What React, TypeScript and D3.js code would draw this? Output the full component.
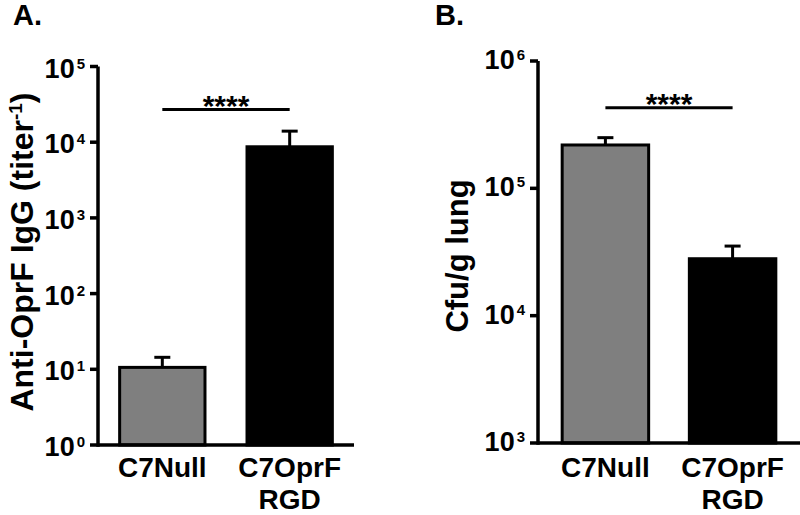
import React from "react"
import * as d3 from "d3"

const categories = [["C7Null"], ["C7OprF", "RGD"]]
const barFills = ["#7f7f7f", "#000000"]

// panel A: anti-OprF IgG titer
const titerMean = [10.6, 8700]
const titerSem = [3.8, 5300]
const titerTicks = [0, 1, 2, 3, 4, 5]
const titerSigLevel = 27000

// panel B: Cfu per g lung
const cfuMean = [219000, 28000]
const cfuSem = [31000, 7200]
const cfuTicks = [3, 4, 5, 6]
const cfuSigLevel = 430000

const FONT = "'Liberation Sans', Arial, sans-serif"

const Panel = ({ letter, letterX, left, right, top, bottom, exps, mean, sem, sigLevel, labelX, labelY, labelSize, yLabel, pad, tickDy }) => {
	const x = d3
		.scaleBand()
		.domain(categories.map(c => c.join(" ")))
		.range([left, right])
		.paddingInner(pad[0])
		.paddingOuter(pad[1])

	const y = d3
		.scaleLog()
		.domain([Math.pow(10, exps[0]), Math.pow(10, exps[exps.length - 1])])
		.range([bottom, top])

	const sigY = y(sigLevel)
	const c0 = x(categories[0].join(" ")) + x.bandwidth() / 2
	const c1 = x(categories[1].join(" ")) + x.bandwidth() / 2

	return (
		<g>
			<text x={letterX} y={25} fontFamily={FONT} fontWeight="bold" fontSize={29}>
				{letter}
			</text>

			{/* bars with upper error bar */}
			{categories.map((c, i) => {
				const key = c.join(" ")
				const cx = x(key) + x.bandwidth() / 2
				const yTop = y(mean[i] + sem[i])
				return (
					<g key={key}>
						<line x1={cx} x2={cx} y1={y(mean[i])} y2={yTop} stroke="#000" strokeWidth={3} />
						<line x1={cx - 8} x2={cx + 8} y1={yTop} y2={yTop} stroke="#000" strokeWidth={3} />
						<rect
							x={x(key)}
							y={y(mean[i])}
							width={x.bandwidth()}
							height={bottom - y(mean[i])}
							fill={barFills[i]}
							stroke="#000"
							strokeWidth={3}
						/>
					</g>
				)
			})}

			{/* axes */}
			<line x1={left} x2={left} y1={top} y2={bottom + 1.75} stroke="#000" strokeWidth={3.5} />
			<line x1={left} x2={right} y1={bottom} y2={bottom} stroke="#000" strokeWidth={3.5} />
			{exps.map(e => {
				const ty = y(Math.pow(10, e))
				return (
					<g key={e}>
						<line x1={left - 8} x2={left} y1={ty} y2={ty} stroke="#000" strokeWidth={3.5} />
						<text
							x={left - 13}
							y={ty + tickDy}
							textAnchor="end"
							fontFamily={FONT}
							fontWeight="bold"
							fontSize={27}
						>
							10
							<tspan dx={2} dy={-9} fontSize={15}>
								{e}
							</tspan>
						</text>
					</g>
				)
			})}

			{/* category labels */}
			{categories.map(c => {
				const key = c.join(" ")
				const cx = x(key) + x.bandwidth() / 2
				return (
					<text key={key} textAnchor="middle" fontFamily={FONT} fontWeight="bold" fontSize={28}>
						{c.map((line, j) => (
							<tspan key={j} x={cx} y={477 + j * 32}>
								{line}
							</tspan>
						))}
					</text>
				)
			})}

			{/* significance */}
			<line x1={c0} x2={c1} y1={sigY} y2={sigY} stroke="#000" strokeWidth={3} />
			<text
				x={(c0 + c1) / 2}
				y={sigY + 6}
				textAnchor="middle"
				fontFamily={FONT}
				fontWeight="bold"
				fontSize={30}
			>
				****
			</text>

			<text
				transform={`translate(${labelX}, ${labelY}) rotate(-90)`}
				textAnchor="middle"
				fontFamily={FONT}
				fontWeight="bold"
				fontSize={labelSize}
			>
				{yLabel}
			</text>
		</g>
	)
}

export default function App() {
	return (
		<svg
			width={800}
			height={515}
			style={{ position: "absolute", left: 0, top: 0, background: "#fff" }}
		>
			<Panel
				letter="A."
				letterX={13}
				left={98}
				right={354}
				top={66.5}
				bottom={445}
				exps={titerTicks}
				mean={titerMean}
				sem={titerSem}
				sigLevel={titerSigLevel}
				labelX={33}
				labelY={252}
				labelSize={32}
				tickDy={11}
				pad={[0.33, 0.17]}
				yLabel={
					<>
						Anti-OprF IgG (titer
						<tspan dy={-11} fontSize={19}>
							-1
						</tspan>
						<tspan dy={11}>)</tspan>
					</>
				}
			/>
			<Panel
				letter="B."
				letterX={435}
				left={538}
				right={800}
				top={61}
				bottom={443}
				exps={cfuTicks}
				mean={cfuMean}
				sem={cfuSem}
				sigLevel={cfuSigLevel}
				labelX={468}
				labelY={256}
				labelSize={31}
				tickDy={8}
				pad={[0.32, 0.19]}
				yLabel="Cfu/g lung"
			/>
		</svg>
	)
}
